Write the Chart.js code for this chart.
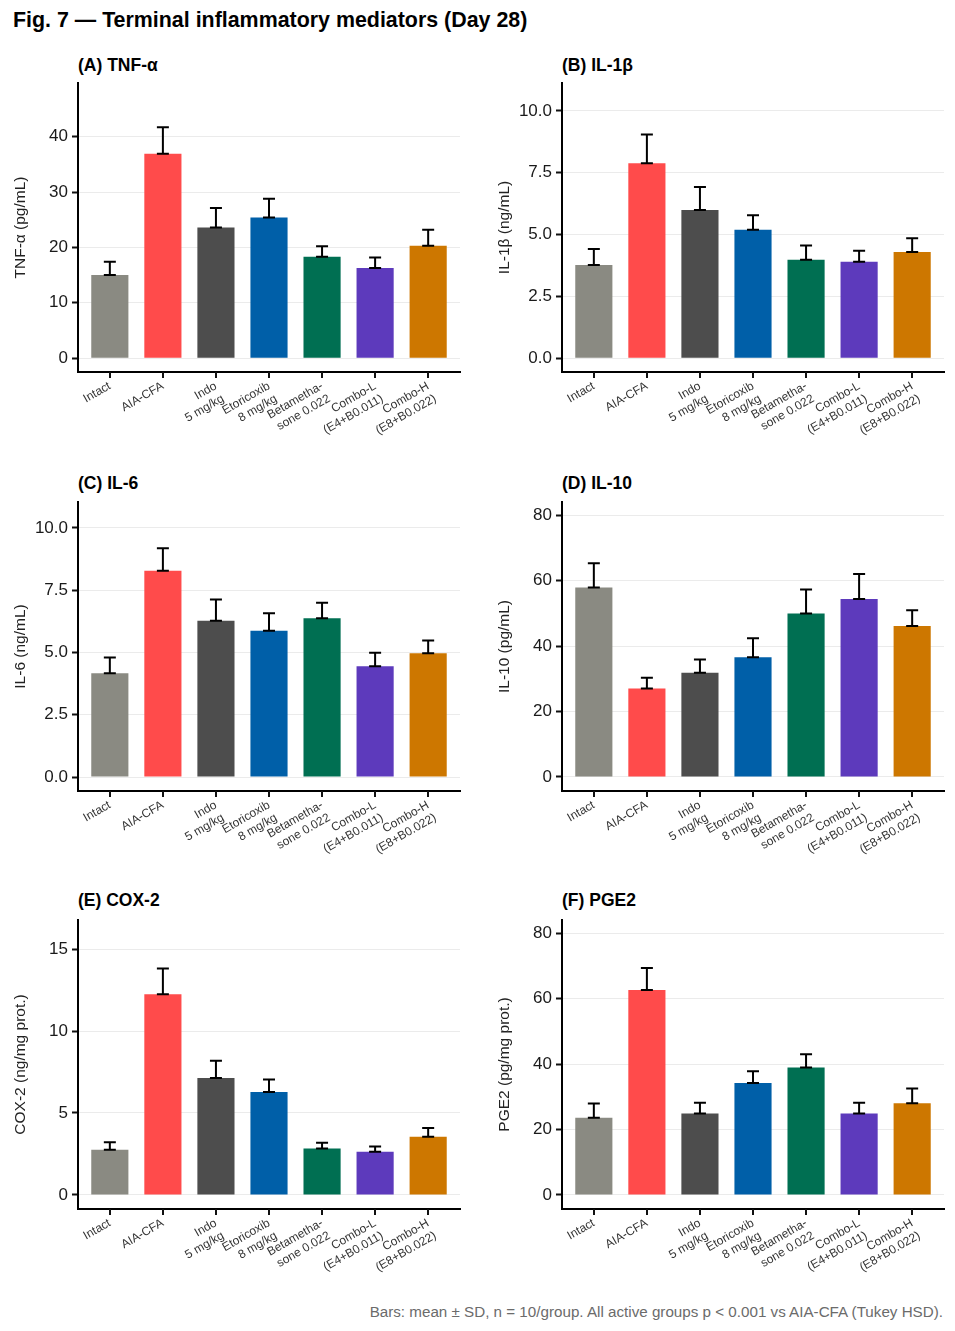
<!DOCTYPE html>
<html>
<head>
<meta charset="utf-8">
<title>Fig. 7 - Terminal inflammatory mediators</title>
<script src="https://cdn.jsdelivr.net/npm/chart.js@4.4.1/dist/chart.umd.min.js"></script>
<style>
  body { margin: 0; background: #fff; font-family: "Liberation Sans", Arial, sans-serif; }
  #page { position: relative; width: 955px; height: 1331px; overflow: hidden; }
  .fig-title { position: absolute; left: 13px; top: 9px; font-size: 21.4px; line-height: 22px; font-weight: bold; color: #000; white-space: nowrap; }
  .panel-title { position: absolute; font-size: 17.5px; line-height: 18px; font-weight: bold; color: #000; white-space: nowrap; }
  .box { position: absolute; }
  .note { position: absolute; right: 12px; top: 1303px; font-size: 15.2px; line-height: 18px; color: #6b6b6b; white-space: nowrap; }
</style>
</head>
<body>
<div id="page">
  <div class="fig-title">Fig. 7 — Terminal inflammatory mediators (Day 28)</div>
  <div class="note">Bars: mean ± SD, n = 10/group. All active groups p &lt; 0.001 vs AIA-CFA (Tukey HSD).</div>
</div>
<script>
// groups and colours
const groups = [
  ['Intact'], ['AIA-CFA'], ['Indo', '5 mg/kg'], ['Etoricoxib', '8 mg/kg'],
  ['Betametha-', 'sone 0.022'], ['Combo-L', '(E4+B0.011)'], ['Combo-H', '(E8+B0.022)']
];
const barColors = ['#8a8a82', '#ff4b4b', '#4d4d4d', '#005fa8', '#006f52', '#5d3abc', '#cd7700'];

// means and SDs
const tnfMean  = [15.0, 36.9, 23.6, 25.4, 18.3, 16.3, 20.3];
const tnfSd    = [2.4, 4.8, 3.5, 3.4, 1.9, 1.9, 2.9];
const il1bMean = [3.77, 7.88, 5.99, 5.19, 3.98, 3.90, 4.29];
const il1bSd   = [0.65, 1.17, 0.93, 0.59, 0.58, 0.44, 0.56];
const il6Mean  = [4.17, 8.28, 6.27, 5.87, 6.37, 4.45, 4.97];
const il6Sd    = [0.63, 0.90, 0.86, 0.70, 0.63, 0.54, 0.51];
const il10Mean = [57.9, 27.0, 31.8, 36.6, 49.9, 54.4, 46.1];
const il10Sd   = [7.4, 3.3, 4.1, 5.8, 7.4, 7.6, 4.8];
const cox2Mean = [2.75, 12.25, 7.13, 6.28, 2.83, 2.63, 3.55];
const cox2Sd   = [0.47, 1.57, 1.06, 0.77, 0.35, 0.32, 0.53];
const pge2Mean = [23.6, 62.6, 24.9, 34.2, 38.9, 24.9, 28.0];
const pge2Sd   = [4.3, 6.7, 3.3, 3.6, 4.1, 3.3, 4.5];

// y tick labels and axis limits
const tnfTicks  = [0, 10, 20, 30, 40];
const il1bTicks = [0, 2.5, 5, 7.5, 10];
const il6Ticks  = [0, 2.5, 5, 7.5, 10];
const il10Ticks = [0, 20, 40, 60, 80];
const cox2Ticks = [0, 5, 10, 15];
const pge2Ticks = [0, 20, 40, 60, 80];
const tnfRange  = [-2.5, 49.7];
const il1bRange = [-0.56, 11.13];
const il6Range  = [-0.56, 11.04];
const il10Range = [-4.3, 84.0];
const cox2Range = [-0.86, 16.78];
const pge2Range = [-4.3, 84.0];

const FONT = '"Liberation Sans", Arial, sans-serif';

// mean -> mean+SD whiskers, caps at both ends; x tick marks at group centres
const errorBars = {
  id: 'errorBars',
  afterDatasetsDraw(chart, args, opts) {
    const meta = chart.getDatasetMeta(0);
    const y = chart.scales.y;
    const ctx = chart.ctx;
    ctx.save();
    ctx.strokeStyle = '#000';
    ctx.lineWidth = 2;
    meta.data.forEach((bar, i) => {
      const m = opts.mean[i];
      const y0 = y.getPixelForValue(m);
      const y1 = y.getPixelForValue(m + opts.sd[i]);
      ctx.beginPath();
      ctx.moveTo(bar.x, y0); ctx.lineTo(bar.x, y1);
      ctx.moveTo(bar.x - 6, y1); ctx.lineTo(bar.x + 6, y1);
      ctx.moveTo(bar.x - 6, y0); ctx.lineTo(bar.x + 6, y0);
      ctx.stroke();
    });
    ctx.restore();
  },
  afterDraw(chart) {
    const x = chart.scales.x;
    const ctx = chart.ctx;
    const base = chart.chartArea.bottom;
    ctx.save();
    ctx.strokeStyle = '#111';
    ctx.lineWidth = 2;
    groups.forEach((g, i) => {
      const px = Math.round(x.getPixelForValue(i + 1));
      ctx.beginPath();
      ctx.moveTo(px, base);
      ctx.lineTo(px, base + 6);
      ctx.stroke();
    });
    ctx.restore();
  }
};

const panels = [
  { title: '(A) TNF-α',  yTitle: 'TNF-α (pg/mL)',       mean: tnfMean,  sd: tnfSd,  ticks: tnfTicks,  range: tnfRange,  dec: 0, col: 0, top: 83,  tTop: 56 },
  { title: '(B) IL-1β',  yTitle: 'IL-1β (ng/mL)',       mean: il1bMean, sd: il1bSd, ticks: il1bTicks, range: il1bRange, dec: 1, col: 1, top: 83,  tTop: 56 },
  { title: '(C) IL-6',   yTitle: 'IL-6 (ng/mL)',        mean: il6Mean,  sd: il6Sd,  ticks: il6Ticks,  range: il6Range,  dec: 1, col: 0, top: 502, tTop: 474 },
  { title: '(D) IL-10',  yTitle: 'IL-10 (pg/mL)',       mean: il10Mean, sd: il10Sd, ticks: il10Ticks, range: il10Range, dec: 0, col: 1, top: 502, tTop: 474 },
  { title: '(E) COX-2',  yTitle: 'COX-2 (ng/mg prot.)', mean: cox2Mean, sd: cox2Sd, ticks: cox2Ticks, range: cox2Range, dec: 0, col: 0, top: 920, tTop: 891 },
  { title: '(F) PGE2',   yTitle: 'PGE2 (pg/mg prot.)',  mean: pge2Mean, sd: pge2Sd, ticks: pge2Ticks, range: pge2Range, dec: 0, col: 1, top: 920, tTop: 891 }
];

// column geometry (page px)
const cols = [
  { left: 0,   width: 470, plotL: 78,  plotR: 460, yTitleX: 21 },
  { left: 480, width: 475, plotL: 562, plotR: 944, yTitleX: 505 }
];
const PLOT_H = 289;
const XAXIS_H = 82;
const PAD_TOP = 16;
const Y_TITLE_SIZE = 15.5;

const page = document.getElementById('page');

panels.forEach(p => {
  const c = cols[p.col];
  const t = document.createElement('div');
  t.className = 'panel-title';
  t.style.left = c.plotL + 'px';
  t.style.top = p.tTop + 'px';
  t.textContent = p.title;
  page.appendChild(t);

  const canvas = document.createElement('canvas');
  const h = PAD_TOP + PLOT_H + XAXIS_H;
  canvas.width = c.width;
  canvas.height = h;
  canvas.className = 'box';
  canvas.style.left = c.left + 'px';
  canvas.style.top = (p.top - PAD_TOP) + 'px';
  canvas.style.width = c.width + 'px';
  canvas.style.height = h + 'px';
  page.appendChild(canvas);

  // y title centre sits lineHeight/2 + 4 px right of the scale's left edge
  const padLeft = c.yTitleX - c.left - (Y_TITLE_SIZE * 1.2 / 2 + 4);
  const yWidth = c.plotL - c.left - padLeft;

  new Chart(canvas.getContext('2d'), {
    type: 'bar',
    data: {
      datasets: [{
        data: p.mean.map((v, i) => ({ x: i + 1, y: v })),
        backgroundColor: barColors,
        borderWidth: 0,
        barPercentage: 0.7,
        categoryPercentage: 1.0
      }]
    },
    options: {
      responsive: false,
      animation: false,
      events: [],
      layout: { padding: { left: padLeft, right: c.left + c.width - c.plotR, top: PAD_TOP, bottom: 0 } },
      plugins: {
        legend: { display: false },
        tooltip: { enabled: false },
        errorBars: { mean: p.mean, sd: p.sd }
      },
      scales: {
        x: {
          type: 'linear',
          min: 0.4,
          max: 7.6,
          offset: false,
          afterBuildTicks: s => { s.ticks = groups.map((g, i) => ({ value: i + 1 })); },
          afterFit: s => { s.height = XAXIS_H; },
          grid: { offset: false, drawOnChartArea: false, drawTicks: true, tickLength: 5, tickColor: 'rgba(0,0,0,0)' },
          border: { display: true, color: '#000', width: 2 },
          ticks: {
            autoSkip: false,
            maxRotation: 30,
            minRotation: 30,
            padding: 2,
            color: '#333',
            font: { family: FONT, size: 12 },
            callback: v => groups[v - 1] || ''
          }
        },
        y: {
          min: p.range[0],
          max: p.range[1],
          afterBuildTicks: s => { s.ticks = p.ticks.map(v => ({ value: v })); },
          afterFit: s => { s.width = yWidth; },
          grid: { color: '#ebebeb', lineWidth: 1, drawTicks: true, tickLength: 6, tickColor: '#111', tickWidth: 2 },
          border: { display: true, color: '#000', width: 2 },
          ticks: {
            padding: 4,
            color: '#1a1a1a',
            font: { family: FONT, size: 17 },
            callback: v => v.toFixed(p.dec)
          },
          title: {
            display: true,
            text: p.yTitle,
            color: '#222',
            font: { family: FONT, size: Y_TITLE_SIZE },
            padding: { top: 4, bottom: 4 }
          }
        }
      }
    },
    plugins: [errorBars]
  });
});
</script>
</body>
</html>
